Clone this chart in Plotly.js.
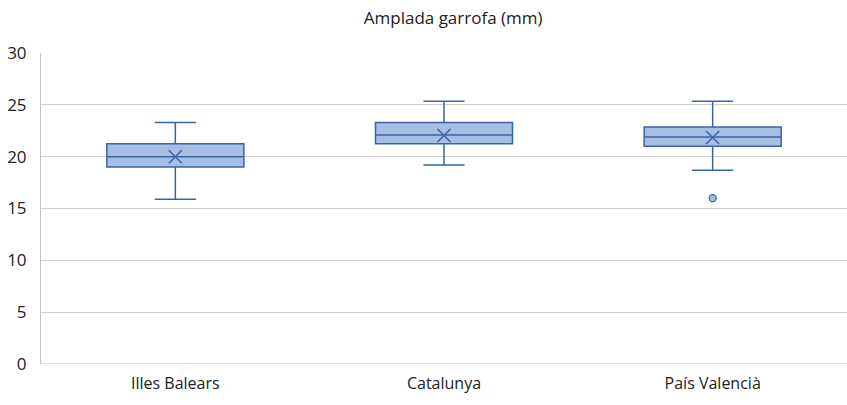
<!DOCTYPE html>
<html>
<head>
<meta charset="utf-8">
<script src="https://cdn.plot.ly/plotly-3.0.1.min.js"></script>
<style>html,body{margin:0;padding:0;background:#fff;}#chart{width:847px;height:405px;}</style>
</head>
<body>
<div id="chart"></div>
<script>
var categories = ["Illes Balears", "Catalunya", "País Valencià"];
var lowerWhisker = [15.9, 19.2, 18.7];
var q1Values = [19.0, 21.25, 21.0];
var medianValues = [20.0, 22.1, 21.9];
var q3Values = [21.25, 23.3, 22.85];
var upperWhisker = [23.3, 25.35, 25.35];
var meanValues = [20.0, 22.05, 21.85];
var outlierCats = ["País Valencià"];
var outlierValues = [16.0];

var lineCol = "#3A64A8";
var fillCol = "#A6BEE2";
var font = "Open Sans, sans-serif";

var traces = [
  {
    type: "box",
    x: categories,
    q1: q1Values,
    median: medianValues,
    q3: q3Values,
    lowerfence: lowerWhisker,
    upperfence: upperWhisker,
    boxpoints: false,
    fillcolor: fillCol,
    line: {color: lineCol, width: 1.5},
    whiskerwidth: 0.3,
    width: 0.51,
    hoverinfo: "skip",
    showlegend: false
  },
  {
    type: "scatter",
    mode: "markers",
    x: categories,
    y: meanValues,
    marker: {symbol: "x-thin-open", size: 13, color: lineCol, line: {color: lineCol, width: 1.5}},
    showlegend: false,
    hoverinfo: "skip"
  },
  {
    type: "scatter",
    mode: "markers",
    x: outlierCats,
    y: outlierValues,
    marker: {symbol: "circle", size: 7, color: fillCol, line: {color: lineCol, width: 1.3}},
    showlegend: false,
    hoverinfo: "skip"
  }
];

var layout = {
  width: 847,
  height: 405,
  margin: {l: 41, r: 0, t: 53, b: 41},
  paper_bgcolor: "#fff",
  plot_bgcolor: "#fff",
  font: {family: font, size: 16, color: "#222"},
  title: {text: "Amplada garrofa (mm)", x: 0.535, xanchor: "center", y: 0.955, yref: "container", yanchor: "middle", font: {family: font, size: 17, color: "#222"}},
  xaxis: {
    type: "category",
    categoryorder: "array",
    categoryarray: categories,
    range: [-0.5, 2.5],
    showgrid: false,
    showline: false,
    zeroline: false,
    ticks: "",
    ticklabelstandoff: 8,
    tickfont: {family: font, size: 16, color: "#222"},
    fixedrange: true
  },
  yaxis: {
    range: [0, 30],
    dtick: 5,
    tick0: 0,
    showgrid: true,
    gridcolor: "#D0D0D0",
    gridwidth: 1,
    showline: true,
    linecolor: "#C4C4C4",
    linewidth: 1,
    zeroline: false,
    ticks: "",
    ticklabelstandoff: 10,
    tickfont: {family: font, size: 17, color: "#222"},
    fixedrange: true
  },
  shapes: [
    {type: "line", xref: "paper", yref: "y", x0: 0, x1: 1, y0: 0, y1: 0, line: {color: "#C4C4C4", width: 1}}
  ]
};

Plotly.newPlot("chart", traces, layout, {displayModeBar: false, staticPlot: true});
</script>
</body>
</html>
